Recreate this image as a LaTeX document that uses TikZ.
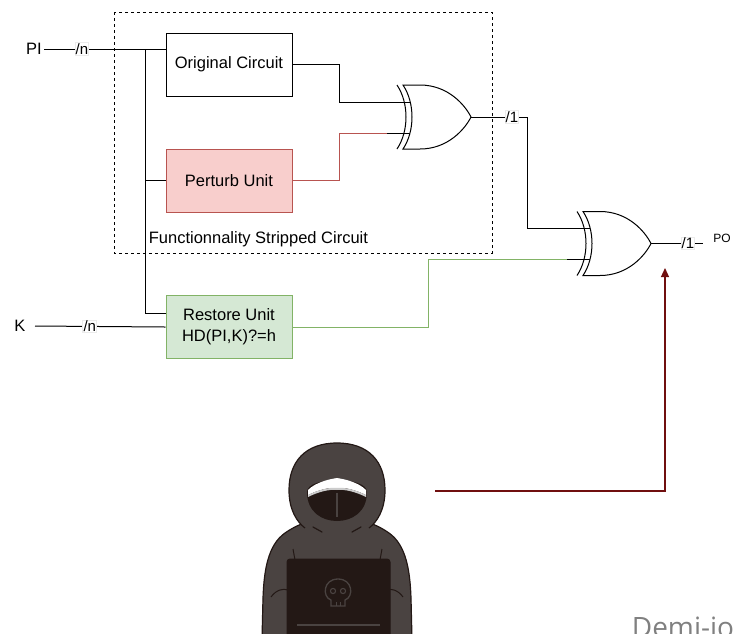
\documentclass[tikz,border=0pt]{standalone}
\usepackage{fontspec}
\setmainfont{Liberation Sans}
\newfontfamily\markfont{Open Sans}
\usetikzlibrary{arrows.meta}

\definecolor{perturbfill}{HTML}{F8CECC}
\definecolor{perturbline}{HTML}{B85450}
\definecolor{restorefill}{HTML}{D5E8D4}
\definecolor{restoreline}{HTML}{82B366}
\definecolor{attackred}{HTML}{700F0F}
\definecolor{hood}{HTML}{4A4341}
\definecolor{ink}{HTML}{231815}

% xor gate, origin at the middle of its back edge
\tikzset{
  xorg/.pic={
    \draw[line width=1pt] (-16,-15) -- (8,-15) (-16,16) -- (8,16);
    \draw[fill=white, line width=1pt] (0,-32) -- (17,-32) .. controls (45,-32) and (62,-12) .. (68,0)
      .. controls (62,12) and (45,32) .. (17,32) -- (0,32)
      .. controls (12,14) and (12,-14) .. (0,-32) -- cycle;
    \draw[line width=1pt] (-6,32) .. controls (6,14) and (6,-14) .. (-6,-32);
    \coordinate (-in1) at (-16,-15);
    \coordinate (-in2) at (-16,16);
    \coordinate (-out) at (68,0);
  }
}

\begin{document}
\begin{tikzpicture}[x=1pt, y=-1pt, line width=1pt,
    every node/.style={font=\fontsize{16.5}{21}\selectfont},
    unitbox/.style={draw, minimum width=126pt, minimum height=63pt, align=center},
    bus/.style={fill=white, draw=black!8, inner sep=0.6pt, font=\fontsize{15}{16}\selectfont}]
  \clip (0,0) rectangle (733,633);

  % stripped circuit frame
  \draw[dash pattern=on 3pt off 3pt] (114,12) rectangle (492,253);
  \node[anchor=west] (fsc) at (145,239) {Functionnality Stripped Circuit};

  % blocks
  \node[unitbox] (orig) at (229,64.5) {Original Circuit};
  \node[unitbox, fill=perturbfill, draw=perturbline] (pert) at (229,180.5) {Perturb Unit};
  \node[unitbox, fill=restorefill, draw=restoreline] (rest) at (229,327) {Restore Unit\\HD(PI,K)?=h};

  \pic (x1) at (403,117) {xorg};
  \pic (x2) at (583,243.5) {xorg};

  % inputs
  \node[inner sep=1pt] (pi) at (34,49) {PI};
  \node[inner sep=1pt] (k) at (20,326) {K};
  \coordinate (split) at (145,49);

  \draw ([xshift=1pt]pi.east) -- node[bus, pos=0.31] {/n} (orig.west |- pi.east);
  \draw (split) |- (pert.west);
  \draw (split) |- ([yshift=14pt]rest.west);
  \draw ([xshift=8pt]k.east) -- node[bus, pos=0.42] {/n} (rest.west);

  % into the gates
  \draw (orig.east) -- ++(47,0) |- (x1-in1);
  \draw[perturbline] (pert.east) -- ++(47,0) |- (x1-in2);
  \draw (x1-out) -- node[bus, pos=0.73] {/1} ++(56,0) |- (x2-in1);
  \draw[restoreline] (rest.east) -- ++(136,0) |- (x2-in2);

  % output
  \draw (x2-out) -- node[bus, pos=0.71] {/1} ++(52,0);
  \node[font=\fontsize{12}{13}\selectfont] (po) at (722,238) {PO};

  % attacker probing the output
  \coordinate (atk) at (435,491);
  \coordinate (aim) at (665,268);
  \draw[attackred, line width=1.2pt, -{Triangle[length=9pt, width=8pt]}] (atk) -| (aim);

  % hooded figure
  \filldraw[fill=hood, draw=ink, line width=1.2pt] (262,640) -- (263,598)
    .. controls (264,570) and (268,545) .. (285,533)
    .. controls (295,526) and (305,522) .. (315,520) -- (359,520)
    .. controls (369,522) and (379,526) .. (389,533)
    .. controls (406,545) and (410,570) .. (411,598) -- (412,640);
  \fill[hood] (337,443) .. controls (305,443) and (289,462) .. (289,490)
    .. controls (289,510) and (297,522) .. (305,528) -- (369,528)
    .. controls (377,522) and (385,510) .. (385,490)
    .. controls (385,462) and (369,443) .. (337,443) -- cycle;
  \draw[ink, line width=1.2pt] (305,528) .. controls (297,522) and (289,510) .. (289,490)
    .. controls (289,462) and (305,443) .. (337,443)
    .. controls (369,443) and (385,462) .. (385,490)
    .. controls (385,510) and (377,522) .. (369,528);
  % face and mask
  \fill[ink] (307,492) .. controls (307,476) and (367,476) .. (367,492)
    .. controls (367,512) and (352,521) .. (337,521)
    .. controls (322,521) and (307,512) .. (307,492) -- cycle;
  \fill[white] (308,490) .. controls (316,482) and (330,479) .. (337,478)
    .. controls (344,479) and (358,482) .. (366,490) -- (366,495)
    .. controls (356,490) and (345,487) .. (337,488)
    .. controls (329,487) and (318,490) .. (308,495) -- cycle;
  \fill[black!20] (308,495) .. controls (318,490) and (329,487) .. (337,488)
    .. controls (345,487) and (356,490) .. (366,495) -- (366,497)
    .. controls (356,492) and (345,489) .. (337,490)
    .. controls (329,489) and (318,492) .. (308,497) -- cycle;
  \draw[hood, line width=1.2pt] (337,493) -- (337,517);
  % folds and arms
  \draw[ink, line width=1.2pt, line cap=round] (313,527) -- (322,532) (352,532) -- (361,527);
  \draw[ink, line width=1pt] (293,549) -- (295,560) (382,549) -- (380,560);
  \draw[ink, line width=1pt] (271,597) .. controls (276,590) and (283,588) .. (288,590);
  \draw[ink, line width=1pt] (403,597) .. controls (398,590) and (391,588) .. (386,590);
  % laptop
  \filldraw[fill=ink, draw=ink, rounded corners=3pt] (287,559) rectangle (390,645);
  \draw[hood, line width=1.2pt] (297,625) -- (380,625);
  \draw[hood, line width=1.3pt] (331,606) -- (331,600)
    .. controls (322,597) and (323,579) .. (338,579)
    .. controls (353,579) and (354,597) .. (345,600) -- (345,606) -- cycle;
  \draw[hood, line width=1.1pt] (333,591) circle (2.6pt) (343,591) circle (2.6pt);
  \draw[hood, line width=1pt] (336,602) -- (336,606) (340,602) -- (340,606);

  \node[anchor=base west, text=black!50, font=\markfont\fontsize{28}{30}\selectfont] (mark) at (628,637) {Demi-io};
\end{tikzpicture}
\end{document}
